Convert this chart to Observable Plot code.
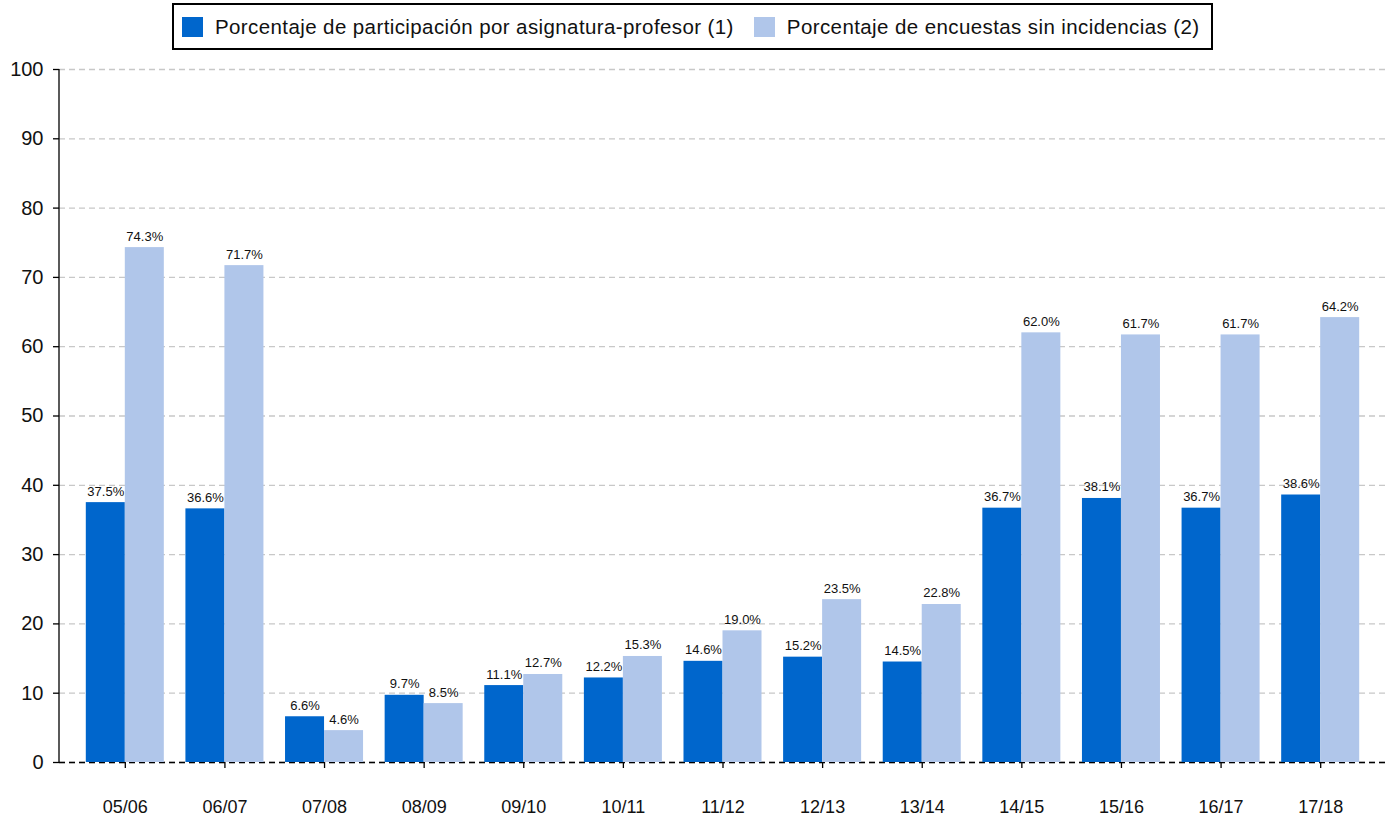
<!DOCTYPE html>
<html>
<head>
<meta charset="utf-8">
<script src="https://cdn.jsdelivr.net/npm/d3@7"></script>
<script src="https://cdn.jsdelivr.net/npm/@observablehq/plot@0.6"></script>
<style>
  body { margin: 0; background: #fff; font-family: "Liberation Sans", Arial, sans-serif; }
  #wrap { width: 1389px; }
  #legendRow { height: 55px; position: relative; }
  #legend {
    position: absolute; left: 172px; top: 3px; width: 1037px; height: 43px;
    border: 2px solid #000; display: flex; align-items: center;
    font-size: 20.5px; letter-spacing: 0.4px; color: #111; box-sizing: content-box;
    white-space: nowrap;
  }
  .sw { width: 21px; height: 20px; display: inline-block; margin-left: 8px; margin-right: 12px; flex: none; }
  .item { display: flex; align-items: center; margin-right: 12px; }
</style>
</head>
<body>
<div id="wrap">
  <div id="legendRow"><div id="legend"></div></div>
  <div id="chart"></div>
</div>
<script>
const cats = ["05/06","06/07","07/08","08/09","09/10","10/11","11/12","12/13","13/14","14/15","15/16","16/17","17/18"];
const participacion = [37.5, 36.6, 6.6, 9.7, 11.1, 12.2, 14.6, 15.2, 14.5, 36.7, 38.1, 36.7, 38.6];
const sinIncidencias = [74.3, 71.7, 4.6, 8.5, 12.7, 15.3, 19.0, 23.5, 22.8, 62.0, 61.7, 61.7, 64.2];
const seriesNames = ["Porcentaje de participación por asignatura-profesor (1)", "Porcentaje de encuestas sin incidencias (2)"];
const seriesColors = ["#0066cc", "#b0c6ea"];
const yTicks = [0, 10, 20, 30, 40, 50, 60, 70, 80, 90, 100];

const dataA = cats.map((c, i) => ({cat: c, v: participacion[i]}));
const dataB = cats.map((c, i) => ({cat: c, v: sinIncidencias[i]}));

// legend
const legend = document.getElementById("legend");
seriesNames.forEach((name, i) => {
  const it = document.createElement("span");
  it.className = "item";
  const sw = document.createElement("span");
  sw.className = "sw";
  sw.style.background = seriesColors[i];
  it.appendChild(sw);
  it.appendChild(document.createTextNode(name));
  legend.appendChild(it);
});

const halfBand = 49.8;
const outerGap = 10.8;
const fmt = v => v.toFixed(1) + "%";

const yAxisLine = (index, scales, values, dims) => {
  const g = d3.create("svg:g");
  g.append("line")
    .attr("x1", dims.marginLeft).attr("x2", dims.marginLeft)
    .attr("y1", dims.marginTop).attr("y2", dims.height - dims.marginBottom)
    .attr("stroke", "#000").attr("stroke-width", 1.3);
  return g.node();
};

const chart = Plot.plot({
  width: 1389,
  height: 765,
  marginTop: 14,
  marginBottom: 58,
  marginLeft: 59,
  marginRight: 4,
  style: {fontFamily: "'Liberation Sans', Arial, sans-serif", background: "#fff", color: "#000"},
  x: {type: "band", domain: cats, padding: 0, round: false, insetLeft: 16, insetRight: 15, label: null},
  y: {domain: [0, 100], label: null},
  marks: [
    Plot.gridY(yTicks, {stroke: "#c8c8c8", strokeOpacity: 1, strokeDasharray: "6,4", strokeWidth: 1.3}),
    Plot.ruleY([0], {stroke: "#000", strokeDasharray: "6,4", strokeWidth: 1.3}),
    Plot.barY(dataA, {x: "cat", y: "v", fill: seriesColors[0], insetLeft: outerGap, insetRight: halfBand}),
    Plot.barY(dataB, {x: "cat", y: "v", fill: seriesColors[1], insetLeft: halfBand, insetRight: outerGap}),
    Plot.text(dataA, {x: "cat", y: "v", text: d => fmt(d.v), dx: -19.5, dy: -7, lineAnchor: "bottom", fontSize: 13, fill: "#111"}),
    Plot.text(dataB, {x: "cat", y: "v", text: d => fmt(d.v), dx: 19.5, dy: -7, lineAnchor: "bottom", fontSize: 13, fill: "#111"}),
    yAxisLine,
    Plot.axisY(yTicks, {tickSize: 6, tickPadding: 10, fontSize: 20, label: null, stroke: "#000", strokeWidth: 1.3, fill: "#111"}),
    Plot.axisX({tickSize: 6, tickPadding: 32, fontSize: 18, label: null, stroke: "#000", strokeWidth: 1.3, fill: "#111"})
  ]
});
document.getElementById("chart").appendChild(chart);
</script>
</body>
</html>
